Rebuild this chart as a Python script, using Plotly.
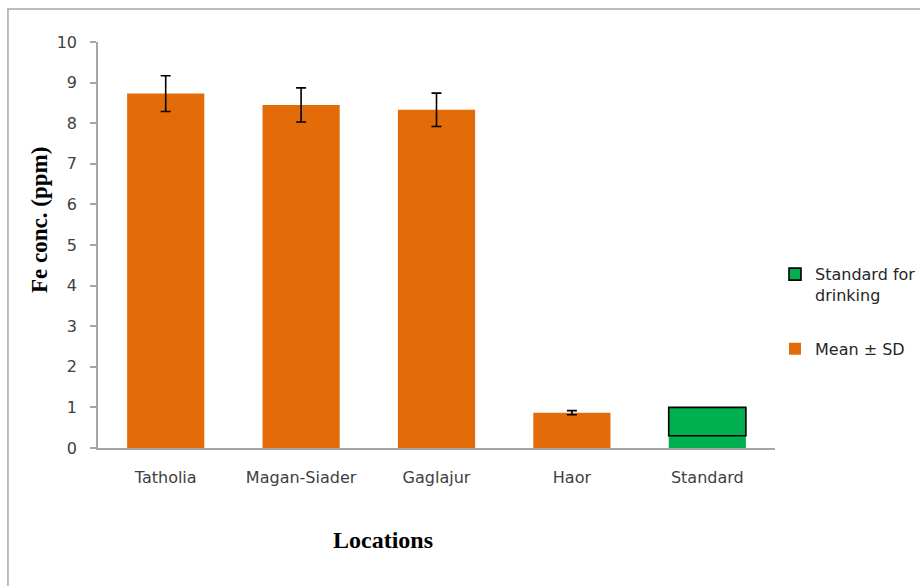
import plotly.graph_objects as go

locations = ["Tatholia", "Magan-Siader", "Gaglajur", "Haor", "Standard"]
fe_mean = [8.73, 8.45, 8.33, 0.87]
fe_sd = [0.44, 0.42, 0.41, 0.05]
standard_low = 0.3
standard_high = 1.0
y_ticks = [0, 1, 2, 3, 4, 5, 6, 7, 8, 9, 10]

ORANGE = "#E36C09"
GREEN = "#00B050"
TICKFONT = dict(family="DejaVu Sans", size=16, color="#404040")
TITLEFONT = dict(family="Liberation Serif", size=24, color="black")

fig = go.Figure()

fig.add_trace(go.Bar(
    x=locations[:4], y=fe_mean, name="Mean ± SD",
    marker=dict(color=ORANGE, line=dict(width=0)),
    error_y=dict(type="data", array=fe_sd, visible=True, color="black", thickness=1.6, width=5),
    width=0.57, legendrank=2, legendgroup="mean",
))
fig.add_trace(go.Bar(
    x=[locations[4]], y=[standard_low], base=[0], showlegend=False,
    marker=dict(color=GREEN, line=dict(width=0)), width=0.57, legendgroup="std",
))
fig.add_trace(go.Bar(
    x=[locations[4]], y=[standard_high - standard_low], base=[standard_low],
    name="Standard for<br>drinking",
    marker=dict(color=GREEN, line=dict(color="black", width=1.6)), width=0.57,
    legendrank=1, legendgroup="std",
))

fig.update_layout(
    width=920, height=586,
    margin=dict(l=98, r=145, t=42, b=138, autoexpand=False),
    barmode="overlay",
    plot_bgcolor="white", paper_bgcolor="white",
    showlegend=True,
    legend=dict(x=1.0, y=0.47, xanchor="left", yanchor="top",
                font=dict(family="DejaVu Sans", size=16, color="#262626"),
                valign="top", tracegroupgap=30, itemwidth=30,
                bgcolor="rgba(0,0,0,0)"),
    xaxis=dict(
        categoryorder="array", categoryarray=locations,
        showline=True, linecolor="#A6A6A6", linewidth=1.5,
        ticks="", tickfont=TICKFONT, showgrid=False, ticklabelstandoff=14,
    ),
    yaxis=dict(
        range=[0, 10], tickvals=y_ticks,
        showline=True, linecolor="#A6A6A6", linewidth=1.5,
        ticks="outside", ticklen=6, tickcolor="#A6A6A6", tickwidth=1.5,
        tickfont=TICKFONT, showgrid=False, zeroline=False, ticklabelstandoff=10,
    ),
    annotations=[
        dict(text="<b>Locations</b>", xref="paper", yref="paper", x=0.421, y=-0.2266,
             xanchor="center", yanchor="middle", showarrow=False, font=TITLEFONT),
        dict(text="<b>Fe conc. (ppm)</b>", xref="paper", yref="paper", x=-0.0857, y=0.5616,
             xanchor="center", yanchor="middle", showarrow=False, textangle=-90,
             font=dict(family="Liberation Serif", size=23, color="black")),
    ],
)

fig.add_shape(type="rect", xref="paper", yref="paper",
              x0=-0.133, y0=-0.5, x1=1.5, y1=1.081,
              line=dict(color="#A6A6A6", width=1.5), fillcolor="rgba(0,0,0,0)", layer="below")

fig.write_html("out.html")
